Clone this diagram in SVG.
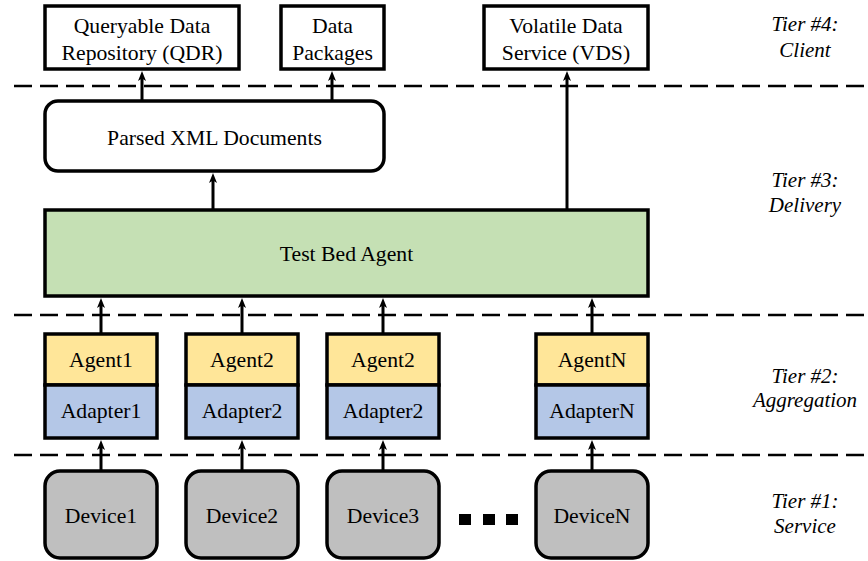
<svg xmlns="http://www.w3.org/2000/svg" width="868" height="561" viewBox="0 0 868 561">
<style>
  .box{stroke:#000;stroke-width:3.5}
  .white{fill:#fff}
  .green{fill:#c5e0b4}
  .yellow{fill:#ffe699}
  .blue{fill:#b4c7e7}
  .gray{fill:#bfbfbf}
  text{font-family:"Liberation Serif","Times New Roman",serif;font-size:21.7px;fill:#000;text-anchor:middle}
  .tier{font-style:italic;font-size:21px}
  .dash{stroke:#000;stroke-width:2.6;stroke-dasharray:18 8;fill:none}
  .conn{stroke:#000;stroke-width:3;fill:none;marker-end:url(#ah)}
</style>
<defs>
  <marker id="ah" markerUnits="userSpaceOnUse" viewBox="0 0 10 8" refX="4" refY="4" markerWidth="10" markerHeight="8" orient="auto">
    <path d="M0,0 L10,4 L0,8 L2.5,4 z" fill="#000"/>
  </marker>
</defs>
<rect width="868" height="561" fill="#fff"/>

<g id="tier-lines">
  <line class="dash" x1="14" y1="86" x2="868" y2="86"/>
  <line class="dash" x1="14" y1="315" x2="868" y2="315"/>
  <line class="dash" x1="14" y1="455" x2="868" y2="455"/>
</g>

<g id="connectors">
  <line class="conn" x1="142" y1="101" x2="142" y2="77"/>
  <line class="conn" x1="332" y1="101" x2="332" y2="77"/>
  <line class="conn" x1="213" y1="210" x2="213" y2="179"/>
  <line class="conn" x1="567" y1="210" x2="567" y2="77"/>
  <line class="conn" x1="101" y1="334" x2="101" y2="304"/>
  <line class="conn" x1="242" y1="334" x2="242" y2="304"/>
  <line class="conn" x1="383" y1="334" x2="383" y2="304"/>
  <line class="conn" x1="592" y1="334" x2="592" y2="304"/>
  <line class="conn" x1="101" y1="471" x2="101" y2="446"/>
  <line class="conn" x1="242" y1="471" x2="242" y2="446"/>
  <line class="conn" x1="383" y1="471" x2="383" y2="446"/>
  <line class="conn" x1="592" y1="471" x2="592" y2="446"/>
</g>

<g id="qdr">
  <rect class="box white" x="45" y="6" width="194" height="63"/>
  <text x="142" y="33">Queryable Data</text>
  <text x="142" y="60">Repository (QDR)</text>
</g>
<g id="data-packages">
  <rect class="box white" x="281" y="6" width="103" height="63"/>
  <text x="332.5" y="33">Data</text>
  <text x="332.5" y="60">Packages</text>
</g>
<g id="vds">
  <rect class="box white" x="484" y="6" width="164" height="63"/>
  <text x="566" y="33">Volatile Data</text>
  <text x="566" y="60">Service (VDS)</text>
</g>

<g id="parsed-xml">
  <rect class="box white" x="45" y="101" width="339" height="70" rx="13"/>
  <text x="214.5" y="145">Parsed XML Documents</text>
</g>

<g id="test-bed-agent">
  <rect class="box green" x="45" y="210" width="603" height="86"/>
  <text x="346.5" y="261">Test Bed Agent</text>
</g>

<g id="agent1">
  <rect class="box yellow" x="45" y="334" width="112" height="51"/>
  <text x="101" y="367">Agent1</text>
</g>
<g id="adapter1">
  <rect class="box blue" x="45" y="385" width="112" height="53"/>
  <text x="101" y="418">Adapter1</text>
</g>
<g id="agent2a">
  <rect class="box yellow" x="186" y="334" width="112" height="51"/>
  <text x="242" y="367">Agent2</text>
</g>
<g id="adapter2a">
  <rect class="box blue" x="186" y="385" width="112" height="53"/>
  <text x="242" y="418">Adapter2</text>
</g>
<g id="agent2b">
  <rect class="box yellow" x="327" y="334" width="112" height="51"/>
  <text x="383" y="367">Agent2</text>
</g>
<g id="adapter2b">
  <rect class="box blue" x="327" y="385" width="112" height="53"/>
  <text x="383" y="418">Adapter2</text>
</g>
<g id="agentN">
  <rect class="box yellow" x="536" y="334" width="112" height="51"/>
  <text x="592" y="367">AgentN</text>
</g>
<g id="adapterN">
  <rect class="box blue" x="536" y="385" width="112" height="53"/>
  <text x="592" y="418">AdapterN</text>
</g>

<g id="device1">
  <rect class="box gray" x="45" y="471" width="112" height="87" rx="15"/>
  <text x="101" y="523">Device1</text>
</g>
<g id="device2">
  <rect class="box gray" x="186" y="471" width="112" height="87" rx="15"/>
  <text x="242" y="523">Device2</text>
</g>
<g id="device3">
  <rect class="box gray" x="327" y="471" width="112" height="87" rx="15"/>
  <text x="383" y="523">Device3</text>
</g>
<g id="deviceN">
  <rect class="box gray" x="536" y="471" width="112" height="87" rx="15"/>
  <text x="592" y="523">DeviceN</text>
</g>

<g id="ellipsis">
  <rect x="459" y="514" width="12" height="11" fill="#000"/>
  <rect x="483" y="514" width="12" height="11" fill="#000"/>
  <rect x="506" y="514" width="12" height="11" fill="#000"/>
</g>

<g id="tier-labels">
  <text class="tier" x="805" y="31">Tier #4:</text>
  <text class="tier" x="805" y="57">Client</text>
  <text class="tier" x="805" y="187">Tier #3:</text>
  <text class="tier" x="805" y="212">Delivery</text>
  <text class="tier" x="805" y="383">Tier #2:</text>
  <text class="tier" x="805" y="407">Aggregation</text>
  <text class="tier" x="805" y="508">Tier #1:</text>
  <text class="tier" x="805" y="533">Service</text>
</g>
</svg>
